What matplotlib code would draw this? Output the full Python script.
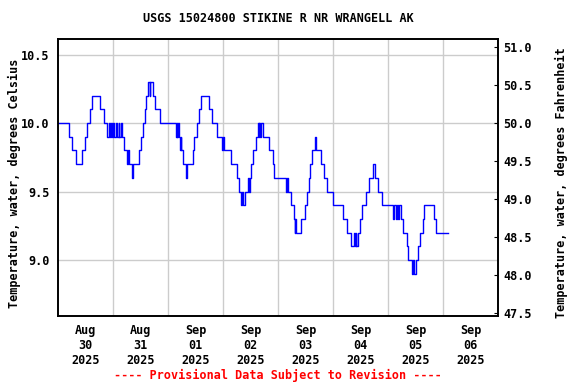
import matplotlib
matplotlib.use("Agg")
import matplotlib.pyplot as plt
import pandas as pd

# change points: hours after 2025-08-30 00:00, water temperature (deg C)
hours = [0, 4.8, 5.9, 7.9, 10.5, 11.9, 12.6, 14.0, 14.8, 18.5, 19.9,
         21.4, 22.4, 22.8, 23.3, 23.7, 24.1, 24.5, 25.5, 25.9, 26.4, 26.8, 27.4, 27.8,
         29.0, 30.0, 30.4, 30.8, 32.4, 32.8, 35.5, 36.2, 37.0, 38.1, 38.4, 39.3,
         40.0, 40.3, 41.3, 42.5, 44.4,
         51.5, 51.8, 52.1, 52.4, 52.6, 53.2, 53.5, 53.8, 54.7, 55.9, 56.5,
         58.9, 59.5, 60.5, 61.5, 62.6, 65.9, 67.4, 69.5, 71.7, 72.0, 72.3,
         75.3, 78.0, 79.1, 79.7, 80.3, 80.6, 81.4, 83.0, 83.3, 83.6, 84.1,
         85.2, 86.4, 87.1, 87.5, 87.8, 88.3, 88.6, 89.6, 92.2, 93.7, 94.4,
         99.5, 99.8, 100.2, 101.7, 103.1, 103.4, 103.6, 103.9, 105.9, 107.9,
         108.8, 109.5, 110.1, 110.7, 112.1, 112.5, 114.6, 116.2, 117.5, 120.1,
         124.2, 126.0, 127.9, 129.0, 129.4, 129.9, 130.2, 130.8, 131.8, 132.8,
         134.3, 135.9, 137.3, 138.3, 139.8, 141.3,
         146.2, 146.5, 147.6, 147.9, 148.3, 148.6, 149.5, 150.4, 152.2, 152.9,
         154.3, 154.7, 155.2, 156.2, 157.2, 158.0, 159.4, 159.9, 164.2, 165.1, 170.1]
temp_c = [10.0, 9.9, 9.8, 9.7, 9.8, 9.9, 10.0, 10.1, 10.2, 10.1, 10.0,
          9.9, 10.0, 9.9, 10.0, 9.9, 10.0, 9.9, 10.0, 9.9, 10.0, 9.9, 10.0, 9.9,
          9.8, 9.7, 9.8, 9.7, 9.6, 9.7, 9.8, 9.9, 10.0, 10.1, 10.2, 10.3,
          10.2, 10.3, 10.2, 10.1, 10.0,
          9.9, 10.0, 9.9, 10.0, 9.9, 9.8, 9.9, 9.8, 9.7, 9.6, 9.7,
          9.8, 9.9, 10.0, 10.1, 10.2, 10.1, 10.0, 9.9, 9.8, 9.9, 9.8,
          9.7, 9.6, 9.5, 9.4, 9.5, 9.4, 9.5, 9.6, 9.5, 9.6, 9.7,
          9.8, 9.9, 10.0, 9.9, 10.0, 9.9, 10.0, 9.9, 9.8, 9.7, 9.6,
          9.5, 9.6, 9.5, 9.4, 9.3, 9.2, 9.3, 9.2, 9.3, 9.4,
          9.5, 9.6, 9.7, 9.8, 9.9, 9.8, 9.7, 9.6, 9.5, 9.4,
          9.3, 9.2, 9.1, 9.2, 9.1, 9.2, 9.1, 9.2, 9.3, 9.4,
          9.5, 9.6, 9.7, 9.6, 9.5, 9.4,
          9.3, 9.4, 9.3, 9.4, 9.3, 9.4, 9.3, 9.2, 9.1, 9.0,
          8.9, 9.0, 8.9, 9.0, 9.1, 9.2, 9.3, 9.4, 9.3, 9.2, 9.2]

start = pd.Timestamp("2025-08-30 00:00")
days = pd.date_range(start, periods=9, freq="D")
day_labels = [d.strftime("%b\n%d\n%Y") for d in days[:8]]
c_ticks = [9.0, 9.5, 10.0, 10.5]
f_ticks = [47.5, 48.0, 48.5, 49.0, 49.5, 50.0, 50.5, 51.0]

times = [start + pd.Timedelta(hours=h) for h in hours]

plt.rcParams["font.family"] = "DejaVu Sans Mono"
plt.rcParams["font.weight"] = "bold"

fig = plt.figure(figsize=(5.76, 3.84), dpi=100)
ax = fig.add_axes([58 / 576, 1 - 316 / 384, 440 / 576, 277 / 384])

ax.plot(times, temp_c, color="#0000ff", lw=1.0, drawstyle="steps-post")

lo, hi = 8.59, 10.615
ax.set_ylim(lo, hi)
ax.set_xlim(days[0], days[-1])
ax.set_yticks(c_ticks)
ax.set_yticklabels(["%.1f" % v for v in c_ticks], fontsize=8.5, fontweight="bold")
ax.set_xticks(days[1:8])
ax.set_xticklabels([])
ax.set_xticks([d + pd.Timedelta(hours=12) for d in days[:8]], minor=True)
ax.set_xticklabels(day_labels, minor=True, fontsize=8.5, fontweight="bold")
ax.tick_params(axis="x", which="both", length=0, pad=6)
ax.tick_params(axis="y", length=0, pad=6)
ax.grid(True, which="major", color="#cccccc", lw=1)
ax.set_axisbelow(True)
ax.set_ylabel("Temperature, water, degrees Celsius", fontsize=8.5, fontweight="bold")
ax.yaxis.set_label_coords((21 - 58) / 440, 0.48)

ax2 = ax.twinx()
ax2.set_ylim(lo * 1.8 + 32, hi * 1.8 + 32)
ax2.set_yticks(f_ticks)
ax2.set_yticklabels(["%.1f" % v for v in f_ticks], fontsize=8.5, fontweight="bold")
ax2.tick_params(axis="y", direction="in", length=3, pad=4)
ax2.set_ylabel("Temperature, water, degrees Fahrenheit", fontsize=8.5, fontweight="bold")
ax2.yaxis.set_label_coords((555 - 58) / 440, 0.48)

for a in (ax, ax2):
    for s in a.spines.values():
        s.set_linewidth(1.2)

fig.text(278 / 576, 1 - 19 / 384, "USGS 15024800 STIKINE R NR WRANGELL AK",
         ha="center", va="center", fontsize=8.5, fontweight="bold")
fig.text(278 / 576, 1 - 375 / 384, "---- Provisional Data Subject to Revision ----",
         ha="center", va="center", fontsize=8.5, fontweight="bold", color="red")

fig.savefig("out.png", dpi=100)
